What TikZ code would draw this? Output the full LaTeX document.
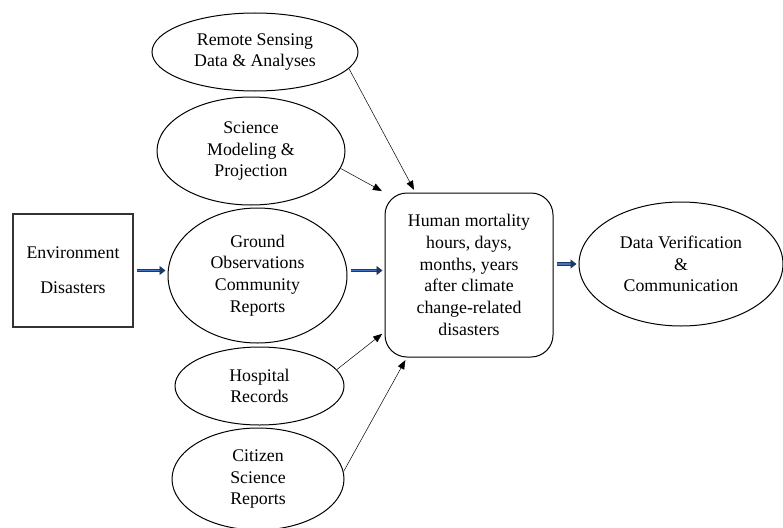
\documentclass[tikz,border=0pt]{standalone}
\usepackage{fontspec}
\setmainfont{Liberation Serif}
\usetikzlibrary{shapes.geometric,arrows.meta}
\definecolor{navy}{RGB}{31,56,100}
\definecolor{steel}{RGB}{68,114,196}

\begin{document}
\begin{tikzpicture}[x=1pt,y=-1pt,
	every node/.style={font=\fontsize{17.8}{21.7}\selectfont,align=center},
	oval/.style={shape=ellipse,draw=black,line width=1pt,inner sep=0pt},
	feed/.style={-{Triangle[length=9pt,width=7pt]},line width=0.5pt,shorten >=3pt},
	flow/.style={draw=navy,double=steel,double distance=1.6pt,line width=0.9pt,
		-{Triangle[length=6pt,width=9pt,fill=navy]},shorten <=3pt,shorten >=2pt}]
	
	\useasboundingbox (0,0) rectangle (783,527);
	
	\node[shape=rectangle,draw=black!80,line width=1.1pt,minimum width=120pt,minimum height=113pt] (a) at (73,270.5) {Environment\\[13pt]Disasters};
	\node[oval,minimum width=206pt,minimum height=78pt] (b) at (255,52) {Remote Sensing\\Data \& Analyses};
	\node[oval,minimum width=188pt,minimum height=108pt] (c) at (251,151) {Science\\Modeling \&\\Projection};
	\node[oval,minimum width=179pt,minimum height=135pt] (d) at (257.5,275.5) {Ground\\Observations\\Community\\Reports};
	\node[oval,minimum width=169pt,minimum height=78pt] (e) at (259.5,386) {Hospital\\Records};
	\node[oval,minimum width=172pt,minimum height=102pt] (f) at (258,479) {Citizen\\Science\\Reports};
	\node[shape=rectangle,rounded corners=22pt,draw=black,line width=1pt,minimum width=168pt,minimum height=164pt] (g) at (469,275) {Human mortality\\hours, days,\\months, years\\after climate\\change-related\\disasters};
	\node[oval,minimum width=204pt,minimum height=124pt] (h) at (681,264) {Data Verification\\\&\\Communication};
	
	\draw[flow] (a.east) -- (a.east -| d.west);
	\draw[flow] (a.east -| d.east) -- (a.east -| g.west);
	\draw[flow] (h.west -| g.east) -- (h.west);
	
	\path[feed] (b.-10) edge (g.123);
	\path[feed] (c.-11) edge (g.north west);
	\path[feed] (e.12) edge (g.214);
	\path[feed] (f.5) edge (g.233);
\end{tikzpicture}
\end{document}
